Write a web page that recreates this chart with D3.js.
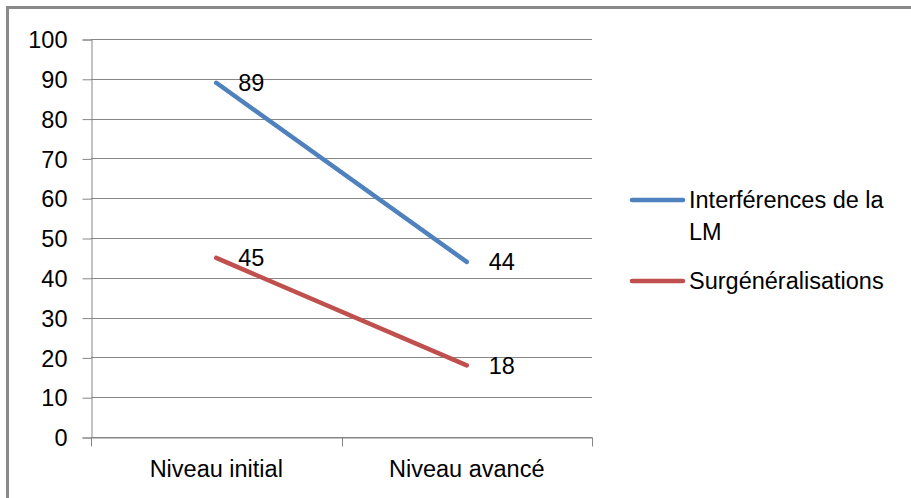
<!DOCTYPE html>
<html>
<head>
<meta charset="utf-8">
<script src="https://cdn.jsdelivr.net/npm/d3@7"></script>
<style>
  body { margin: 0; background: #fff; }
  svg text { font-family: "Liberation Sans", Arial, sans-serif; fill: #000; }
</style>
</head>
<body>
<div id="chart"></div>
<script>
// Data
var categories = ['Niveau initial', 'Niveau avancé'];
var seriesNames = ['Interférences de la LM', 'Surgénéralisations'];
var interferences = [89, 44];
var surgeneralisations = [45, 18];
var yTicks = [0, 10, 20, 30, 40, 50, 60, 70, 80, 90, 100];

var WIDTH = 911, HEIGHT = 498;
var FONT = '23.5px';
var colors = ['#4f81bd', '#c0504d'];
var series = [
    { name: seriesNames[0], values: interferences, color: colors[0] },
    { name: seriesNames[1], values: surgeneralisations, color: colors[1] }
];

var svg = d3.select('#chart').append('svg:svg')
    .attr('width', WIDTH)
    .attr('height', HEIGHT);

// Outer frame (only top and left visible in the original)
svg.append('path')
    .attr('d', 'M7.5,' + HEIGHT + 'V7.5H' + WIDTH)
    .attr('fill', 'none')
    .attr('stroke', '#8a8a8a')
    .attr('stroke-width', 3);

var plotLeft = 91, plotRight = 592, plotTop = 39, plotBottom = 437;

var x = d3.scaleBand().domain(categories).range([plotLeft, plotRight]);
var y = d3.scaleLinear().domain([0, 100]).range([plotBottom, plotTop]);

// Gridlines
svg.append('g').selectAll('line')
    .data(yTicks)
    .enter().append('line')
    .attr('x1', plotLeft).attr('x2', plotRight)
    .attr('y1', function(d) { return Math.round(y(d)) + 0.5; })
    .attr('y2', function(d) { return Math.round(y(d)) + 0.5; })
    .attr('stroke', '#868686')
    .attr('stroke-width', 1);

// Y axis
var yAxis = svg.append('g')
    .attr('transform', 'translate(' + (plotLeft + 0.5) + ',0.5)')
    .call(d3.axisLeft(y).tickValues(yTicks).tickSize(9).tickPadding(15));
yAxis.selectAll('text').style('font-size', FONT).attr('dy', '0.35em');

// X axis, with ticks at the band boundaries
var xAxis = svg.append('g')
    .attr('transform', 'translate(0,' + (plotBottom + 0.5) + ')')
    .call(d3.axisBottom(x).tickSize(0).tickPadding(23));
xAxis.selectAll('text').style('font-size', FONT);
xAxis.selectAll('.tick line').remove();
xAxis.selectAll('line.bound')
    .data([plotLeft, (plotLeft + plotRight) / 2, plotRight])
    .enter().append('line')
    .attr('class', 'bound')
    .attr('x1', function(d) { return Math.round(d) + 0.5; })
    .attr('x2', function(d) { return Math.round(d) + 0.5; })
    .attr('y1', 0).attr('y2', 9);

svg.selectAll('.domain, .tick line, line.bound')
    .attr('stroke', '#868686');

var line = d3.line()
    .x(function(d, i) { return x(categories[i]) + x.bandwidth() / 2; })
    .y(function(d) { return y(d); });

series.forEach(function drawSeries(s) {
    svg.append('path')
        .datum(s.values)
        .attr('d', line)
        .attr('fill', 'none')
        .attr('stroke', s.color)
        .attr('stroke-width', 4.5)
        .attr('stroke-linecap', 'round');

    // Data labels, to the right of each point
    svg.append('g').selectAll('text')
        .data(s.values)
        .enter().append('text')
        .attr('x', function(d, i) { return x(categories[i]) + x.bandwidth() / 2 + 22; })
        .attr('y', function(d) { return y(d); })
        .attr('dy', '0.35em')
        .style('font-size', FONT)
        .text(function(d) { return d; });
});

// Legend
var legend = svg.append('g').attr('transform', 'translate(631,0)');
var legendRows = [
    { lines: ['Interférences de la', 'LM'], y: 200, color: colors[0] },
    { lines: ['Surgénéralisations'], y: 281, color: colors[1] }
];
legendRows.forEach(function(r) {
    legend.append('line')
        .attr('x1', 1).attr('x2', 52)
        .attr('y1', r.y).attr('y2', r.y)
        .attr('stroke', r.color)
        .attr('stroke-width', 4.5)
        .attr('stroke-linecap', 'round');
    r.lines.forEach(function(t, i) {
        legend.append('text')
            .attr('x', 58)
            .attr('y', r.y + i * 32)
            .attr('dy', '0.35em')
            .style('font-size', FONT)
            .text(t);
    });
});
</script>
</body>
</html>
